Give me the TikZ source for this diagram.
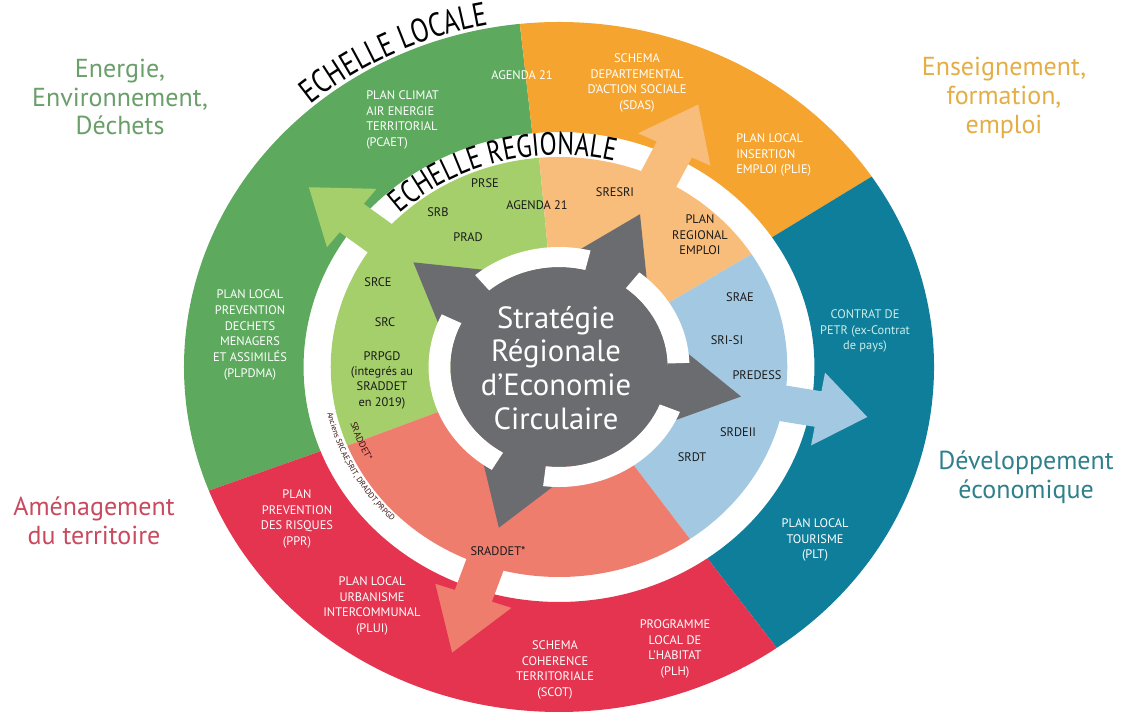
\documentclass[tikz,border=0pt]{standalone}
\usepackage{fontspec}
\newfontfamily\pt{PT Sans}
\newfontfamily\ptc[FakeStretch=0.78]{PT Sans}
\usetikzlibrary{decorations.text}
\definecolor{ogreen}{HTML}{5DAA5E}
\definecolor{oorange}{HTML}{F5A52F}
\definecolor{oteal}{HTML}{0E7E9B}
\definecolor{ored}{HTML}{E4344F}
\definecolor{lgreen}{HTML}{A5CF6A}
\definecolor{lorange}{HTML}{F8BC7B}
\definecolor{lblue}{HTML}{A3C9E2}
\definecolor{lsalmon}{HTML}{EF7D6E}
\definecolor{cgray}{HTML}{6B6C6F}
\definecolor{darktxt}{HTML}{1A1A1A}
\definecolor{cyantxt}{HTML}{C9EEEA}
\definecolor{catgreen}{HTML}{6A9F6A}
\definecolor{catgold}{HTML}{E5AE45}
\definecolor{catred}{HTML}{C94A5E}
\definecolor{catteal}{HTML}{2F7F8C}
\definecolor{smalltxt}{HTML}{3A1010}
\newcommand\annsec[5]{\fill[#1] (#2:#5) arc[start angle=#2, end angle=#3, radius=#5] -- (#3:#4) arc[start angle=#3, end angle=#2, radius=#4] -- cycle;}
\newcommand\pieslice[4]{\fill[#1] (0,0) -- (#2:#4) arc[start angle=#2, end angle=#3, radius=#4] -- cycle;}
\newcommand\colarrow[3]{\begin{scope}[rotate=#2]\fill[#1] (170,-18) -- (242,-18) -- (242,-37) -- (#3,0) -- (242,37) -- (242,18) -- (170,18) -- cycle;\end{scope}}
\newcommand\grayhead[1]{\begin{scope}[rotate=#1]\fill[cgray] (98,-44) -- (170,0) -- (98,44) -- cycle;\end{scope}}
\begin{document}
\begin{tikzpicture}[x=0.75pt,y=0.75pt,
  lt/.style={font=\pt\fontsize{9.3}{11.8}\selectfont, text=white, align=center, inner sep=0pt},
  rt/.style={font=\pt\fontsize{9.3}{11.5}\selectfont, text=darktxt, align=center, inner sep=0pt},
  cat/.style={font=\pt\fontsize{19.5}{21.5}\selectfont, align=center, inner sep=0pt},
  ctr/.style={font=\pt\fontsize{23}{25.3}\selectfont, text=white, align=center, inner sep=0pt}]
\useasboundingbox (0,0) rectangle (1128,715);
\fill[white] (0,0) rectangle (1128,715);
\begin{scope}[shift={(559,348)}, xscale=1.087]
  % inner regional ring
  \pieslice{lgreen}{95}{202}{210}
  \pieslice{lorange}{32.5}{95}{210}
  \pieslice{lblue}{-55}{32.5}{210}
  \pieslice{lsalmon}{202}{305}{210}
  % outer local ring
  \annsec{ogreen}{96}{201}{235}{345}
  \annsec{oorange}{33.5}{96}{235}{345}
  \annsec{oteal}{-54.5}{33.5}{235}{345}
  \annsec{ored}{201}{305.5}{235}{345}
  % coloured arrows
  \colarrow{lgreen}{142}{292}
  \colarrow{lorange}{64}{292}
  \colarrow{lblue}{-10}{288}
  \colarrow{lsalmon}{251}{302}
  % grey centre
  \fill[cgray] (0,0) circle[radius=100];
  \grayhead{142}
  \grayhead{64}
  \grayhead{-10}
  \grayhead{251}
  % white ring around the centre
  \annsec{white}{76}{130}{100}{120}
  \annsec{white}{154}{239}{100}{120}
  \annsec{white}{263}{338}{100}{120}
  \annsec{white}{2}{52}{100}{120}
\end{scope}
% curved titles
\begin{scope}[shift={(559,348)}]
  \path[decorate, decoration={text along path, text align=center,
     text={|\ptc\fontsize{25}{25}\selectfont|ECHELLE LOCALE}}]
     (136:378.3 and 348) arc[start angle=136, end angle=96, x radius=378.3, y radius=348];
  \path[decorate, decoration={text along path, text align=center,
     text={|\ptc\fontsize{24}{24}\selectfont|ECHELLE REGIONALE}}]
     (140:230.4 and 212) arc[start angle=140, end angle=70, x radius=230.4, y radius=212];
  \path[decorate, decoration={text along path, text align=center,
     text={|\pt\fontsize{7}{7}\selectfont\color{smalltxt}|SRADDET*}}]
     (180:217.4 and 200) arc[start angle=180, end angle=224, x radius=217.4, y radius=200];
  \path[decorate, decoration={text along path, text align=center,
     text={|\pt\fontsize{6}{6}\selectfont\color{smalltxt}|Anciens SRCAE,SRIT, DRADDT,PRPGD}}]
     (185:237 and 218) arc[start angle=185, end angle=232, x radius=237, y radius=218];
\end{scope}
% centre text
\node[ctr] (centre) at (556,347) {Stratégie\\Régionale\\d’Economie\\Circulaire};
% category labels
\node[cat, text=catgreen] (catenv) at (120,618) {Energie,\\Environnement,\\Déchets};
\node[cat, text=catgold] (catens) at (1004,617) {Enseignement,\\formation,\\emploi};
\node[cat, text=catred] (catam) at (94,194) {Aménagement\\du territoire};
\node[cat, text=catteal] (catdev) at (1026,238) {Développement\\économique};
% local scale texts
\node[lt] (lagenda) at (522,640) {AGENDA 21};
\node[lt, align=left, anchor=west] (lpcaet) at (366,595) {PLAN CLIMAT\\AIR ENERGIE\\TERRITORIAL\\(PCAET)};
\node[lt] (lsdas) at (637,632) {SCHEMA\\DEPARTEMENTAL\\D’ACTION SOCIALE\\(SDAS)};
\node[lt, align=left, anchor=west] (lplie) at (736,560) {PLAN LOCAL\\INSERTION\\EMPLOI (PLIE)};
\node[lt, text=cyantxt] (lpetr) at (865,384) {CONTRAT DE\\PETR (ex-Contrat\\de pays)};
\node[lt] (lplt) at (815,175) {PLAN LOCAL\\TOURISME\\(PLT)};
\node[lt] (lplh) at (675,66) {PROGRAMME\\LOCAL DE\\L’HABITAT\\(PLH)};
\node[lt] (lscot) at (555,45) {SCHEMA\\COHERENCE\\TERRITORIALE\\(SCOT)};
\node[lt] (lplui) at (372,109) {PLAN LOCAL\\URBANISME\\INTERCOMMUNAL\\(PLUI)};
\node[lt] (lppr) at (297,196) {PLAN\\PREVENTION\\DES RISQUES\\(PPR)};
\node[lt] (lplpdma) at (250,380) {PLAN LOCAL\\PREVENTION\\DECHETS\\MENAGERS\\ET ASSIMILÉS\\(PLPDMA)};
% regional scale texts
\node[rt] (rprse) at (485,532) {PRSE};
\node[rt] (rsrb) at (438,503) {SRB};
\node[rt] (ragenda) at (537,510) {AGENDA 21};
\node[rt] (rprad) at (468,478) {PRAD};
\node[rt] (rsresri) at (615,523) {SRESRI};
\node[rt] (rpre) at (700,480) {PLAN\\REGIONAL\\EMPLOI};
\node[rt] (rsrae) at (740,418) {SRAE};
\node[rt] (rsrisi) at (727,375) {SRI-SI};
\node[rt] (rpredess) at (757,340) {PREDESS};
\node[rt] (rsrdeii) at (738,283) {SRDEII};
\node[rt] (rsrdt) at (692,258) {SRDT};
\node[rt] (rsrce) at (378,433) {SRCE};
\node[rt] (rsrc) at (385,393) {SRC};
\node[rt] (rprpgd) at (382,335) {PRPGD\\(integrés au\\SRADDET\\en 2019)};
\node[rt] (rsraddet) at (498,164) {SRADDET*};
\end{tikzpicture}
\end{document}
